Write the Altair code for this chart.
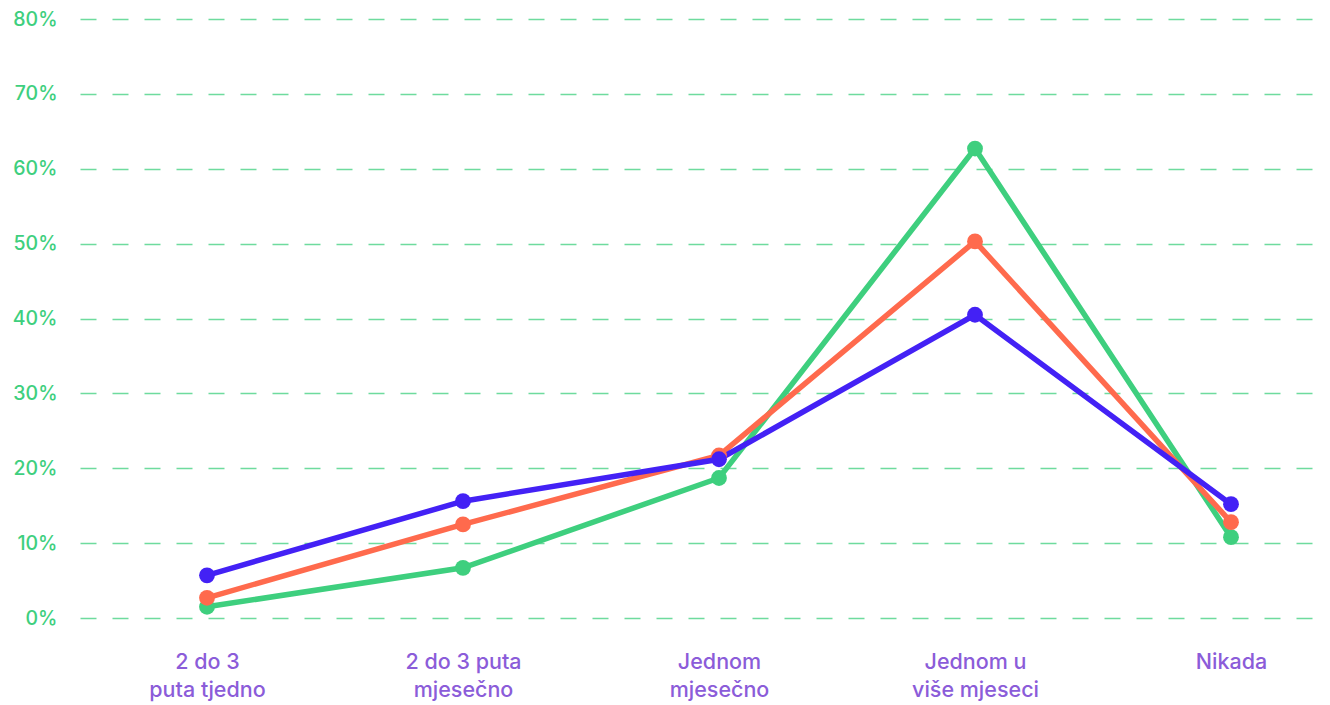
import altair as alt
import pandas as pd

categories = ["2 do 3 puta tjedno", "2 do 3 puta mjesečno", "Jednom mjesečno", "Jednom u više mjeseci", "Nikada"]
labels = ["2 do 3\nputa tjedno", "2 do 3 puta\nmjesečno", "Jednom\nmjesečno", "Jednom u\nviše mjeseci", "Nikada"]
series = ["A", "B", "C"]
green_vals = [1.5, 6.7, 18.7, 62.7, 10.8]
orange_vals = [2.7, 12.5, 21.7, 50.3, 12.8]
blue_vals = [5.7, 15.6, 21.2, 40.5, 15.2]
colors = ["#3ecf7e", "#ff6a4d", "#4321f5"]

rows = []
for s, vals in zip(series, [green_vals, orange_vals, blue_vals]):
    for i, v in enumerate(vals):
        rows.append({"idx": i, "series": s, "value": v / 100})
df = pd.DataFrame(rows)

label_arr = "[" + ",".join("'" + l.replace("\n", "\\n") + "'" for l in labels) + "]"

W = 1240
x = alt.X("idx:Q",
          scale=alt.Scale(domain=[-127 / 256, (W - 127) / 256], nice=False, zero=False),
          axis=alt.Axis(title=None, labelAngle=0, domain=False, ticks=False,
                        values=list(range(len(labels))),
                        labelColor="#8b5cd9", labelFont="Inter", labelFontSize=21.5,
                        labelFontWeight=500, labelPadding=33, labelLineHeight=28,
                        labelFlush=False, labelOverlap=False,
                        labelExpr="split(" + label_arr + "[datum.value], '\\n')", grid=False))
y = alt.Y("value:Q", scale=alt.Scale(domain=[0, 0.8], nice=False),
          axis=alt.Axis(title=None, format=".0%", values=[0, .1, .2, .3, .4, .5, .6, .7, .8],
                        domain=False, ticks=False, labelColor="#3ecf7e", labelFont="Inter",
                        labelFontSize=19.5, labelFontWeight=500, labelPadding=23,
                        grid=True, gridColor="#3ecf7e", gridOpacity=0.75, gridDash=[16, 16],
                        gridWidth=1.5))
color = alt.Color("series:N", scale=alt.Scale(domain=series, range=colors), legend=None)

base = alt.Chart(df).encode(x=x, y=y, color=color, detail="series:N")
lines = base.mark_line(strokeWidth=5.5).encode(order="idx:Q")
pts = base.mark_circle(size=250, opacity=1)

chart = alt.layer(lines, pts).properties(
    width=W, height=599,
    autosize=alt.AutoSizeParams(type="none"),
    padding={"left": 72, "top": 11, "right": 0, "bottom": 86}
).configure_view(stroke=None)

chart.save("out.html", embed_options={"renderer": "svg", "actions": False})
